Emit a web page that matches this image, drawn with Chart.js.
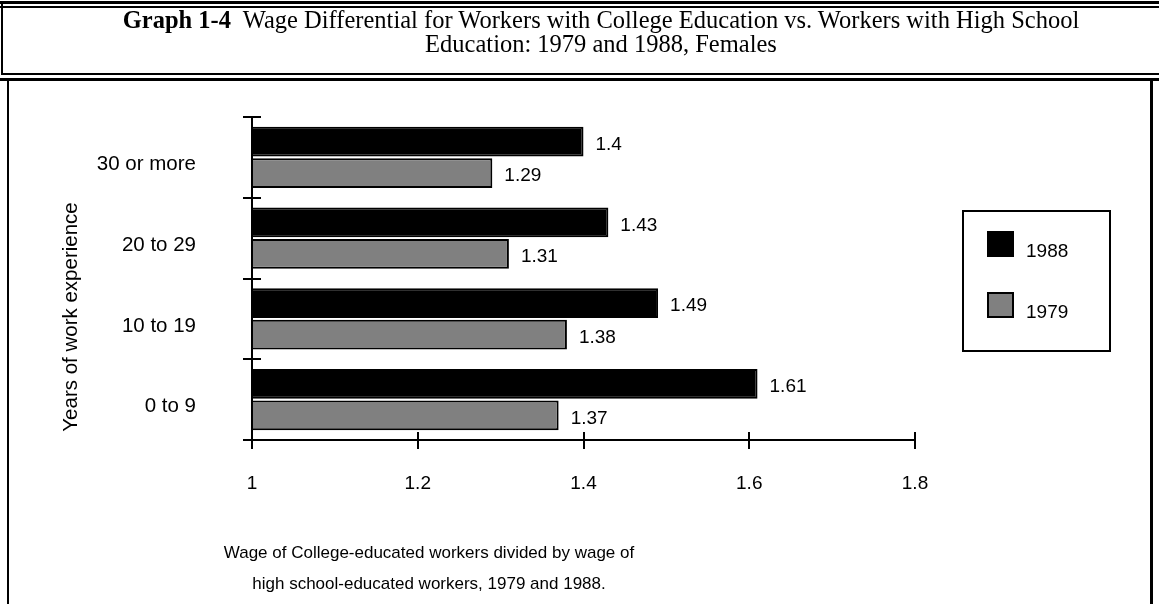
<!DOCTYPE html>
<html>
<head>
<meta charset="utf-8">
<title>Graph 1-4</title>
<script src="https://cdn.jsdelivr.net/npm/chart.js@4/dist/chart.umd.min.js"></script>
<style>
  html, body { margin: 0; padding: 0; background: #fff; }
  body { width: 1159px; height: 604px; position: relative; overflow: hidden; }
  #chart { position: absolute; left: 0; top: 0; }
  .rule { position: absolute; background: #000; }
  .title {
    position: absolute; left: 0; width: 1202px; height: 24px; line-height: 24px;
    font-family: "Liberation Serif", "Times New Roman", serif; font-size: 24.5px;
    color: #000; white-space: nowrap; text-align: center;
  }
  .title b { font-weight: bold; }
</style>
</head>
<body>
<canvas id="chart" width="1159" height="604"></canvas>

<!-- heading box rules -->
<div class="rule" style="left:0;top:1px;width:1159px;height:3px"></div>
<div class="rule" style="left:0;top:6px;width:1159px;height:2px"></div>
<div class="rule" style="left:1px;top:1px;width:2px;height:74px"></div>
<div class="rule" style="left:1px;top:73px;width:1158px;height:2px"></div>
<!-- chart box rules -->
<div class="rule" style="left:0;top:78px;width:1159px;height:3px"></div>
<div class="rule" style="left:7px;top:78px;width:2px;height:526px"></div>
<div class="rule" style="left:1150px;top:78px;width:3px;height:526px"></div>

<div class="title" style="top:8px"><b>Graph 1-4</b>&nbsp; Wage Differential for Workers with College Education vs. Workers with High School</div>
<div class="title" style="top:32px">Education: 1979 and 1988, Females</div>

<script>
// Years of work experience, top to bottom
const categories = ['30 or more', '20 to 29', '10 to 19', '0 to 9'];
// College / high-school wage ratio
const wages1988 = [1.4, 1.43, 1.49, 1.61];
const wages1979 = [1.29, 1.31, 1.38, 1.37];
const seriesNames = ['1988', '1979'];
const xTickLabels = ['1', '1.2', '1.4', '1.6', '1.8'];
const yAxisTitle = 'Years of work experience';
const xAxisTitle = [
  'Wage of College-educated workers divided by wage of',
  'high school-educated workers, 1979 and 1988.'
];

const SANS = '"Liberation Sans", Arial, sans-serif';

// Axis lines with cross ticks, value labels, legend box and axis titles
const decorations = {
  id: 'decorations',
  afterDraw(chart) {
    const ctx = chart.ctx;
    const area = chart.chartArea;
    const xs = chart.scales.x;
    const n = chart.data.labels.length;
    ctx.save();
    ctx.strokeStyle = '#000';
    ctx.fillStyle = '#000';
    ctx.lineWidth = 2;

    // vertical axis and category boundary ticks
    ctx.beginPath();
    ctx.moveTo(area.left, area.top);
    ctx.lineTo(area.left, area.bottom);
    for (let k = 0; k <= n; k++) {
      const y = Math.round(area.top + k * (area.bottom - area.top) / n);
      ctx.moveTo(area.left - 9, y);
      ctx.lineTo(area.left + 9, y);
    }
    // horizontal axis and value ticks
    ctx.moveTo(area.left - 9, area.bottom);
    ctx.lineTo(area.right, area.bottom);
    xs.ticks.forEach(t => {
      const x = Math.round(xs.getPixelForValue(t.value));
      ctx.moveTo(x, area.bottom - 8);
      ctx.lineTo(x, area.bottom + 9);
    });
    ctx.stroke();

    // value labels at bar ends
    ctx.font = '19px ' + SANS;
    ctx.textAlign = 'left';
    ctx.textBaseline = 'middle';
    chart.data.datasets.forEach((ds, di) => {
      chart.getDatasetMeta(di).data.forEach((bar, i) => {
        ctx.fillText(String(ds.data[i]), bar.x + 12, bar.y + 3);
      });
    });

    // legend
    ctx.strokeRect(963, 211, 147, 140);
    chart.data.datasets.forEach((ds, di) => {
      const top = 232 + di * 61;
      ctx.fillStyle = ds.backgroundColor;
      ctx.fillRect(988, top, 25, 24);
      ctx.strokeRect(988, top, 25, 24);
      ctx.fillStyle = '#000';
      ctx.fillText(ds.label, 1026, top + 20);
    });

    // y axis title
    ctx.save();
    ctx.font = '20.5px ' + SANS;
    ctx.translate(71, 317);
    ctx.rotate(-Math.PI / 2);
    ctx.textAlign = 'center';
    ctx.fillText(yAxisTitle, 0, 0);
    ctx.restore();

    // x axis title
    ctx.font = '17px ' + SANS;
    ctx.textAlign = 'center';
    ctx.fillText(xAxisTitle[0], 429, 553);
    ctx.fillText(xAxisTitle[1], 429, 584);
    ctx.restore();
  }
};

const whiteBackground = {
  id: 'whiteBackground',
  beforeDraw(chart) {
    const ctx = chart.ctx;
    ctx.save();
    ctx.fillStyle = '#fff';
    ctx.fillRect(0, 0, chart.width, chart.height);
    ctx.restore();
  }
};

new Chart(document.getElementById('chart'), {
  type: 'bar',
  data: {
    labels: categories,
    datasets: [
      { label: seriesNames[0], data: wages1988, backgroundColor: '#000000', borderColor: '#000', borderWidth: 2 },
      { label: seriesNames[1], data: wages1979, backgroundColor: '#808080', borderColor: '#000', borderWidth: 2 }
    ]
  },
  options: {
    indexAxis: 'y',
    responsive: false,
    animation: false,
    devicePixelRatio: 1,
    categoryPercentage: 0.78,
    barPercentage: 0.95,
    layout: { padding: { left: 0, top: 117, right: 244, bottom: 0 } },
    plugins: { legend: { display: false }, tooltip: { enabled: false } },
    scales: {
      x: {
        type: 'linear',
        min: 1,
        max: 1.8,
        ticks: {
          stepSize: 0.2,
          autoSkip: false,
          maxRotation: 0,
          color: '#000',
          font: { family: SANS, size: 19 },
          padding: 32,
          callback: (v, i) => xTickLabels[i]
        },
        grid: { display: false, drawTicks: false },
        border: { display: false },
        afterFit(s) { s.height = 164; }
      },
      y: {
        ticks: { color: '#000', font: { family: SANS, size: 20.5 }, padding: 56, labelOffset: 7 },
        grid: { display: false, drawTicks: false },
        border: { display: false },
        afterFit(s) { s.width = 252; }
      }
    }
  },
  plugins: [whiteBackground, decorations]
});
</script>
</body>
</html>
